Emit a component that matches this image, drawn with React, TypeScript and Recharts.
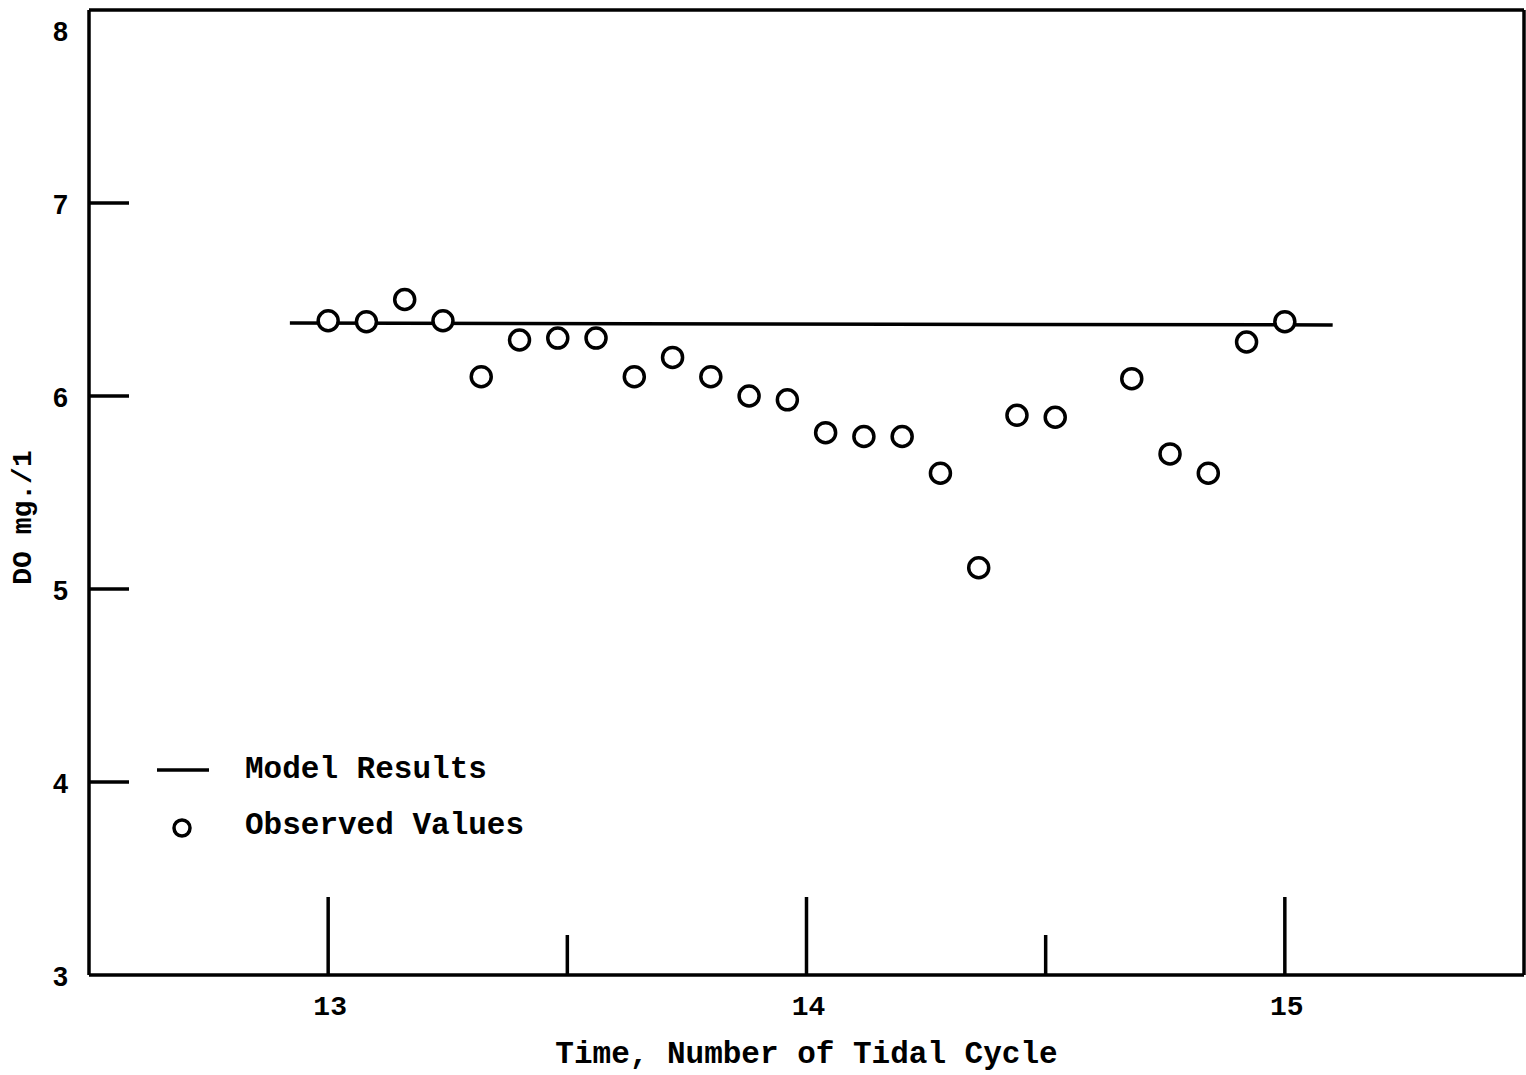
import React from "react";
import {
  ComposedChart,
  Line,
  Scatter,
  XAxis,
  YAxis,
  ReferenceLine,
} from "recharts";

// Observed values (time in tidal cycles, DO mg/l)
const observedTime = [
  13.0, 13.08, 13.16, 13.24, 13.32, 13.4, 13.48, 13.56, 13.64, 13.72, 13.8,
  13.88, 13.96, 14.04, 14.12, 14.2, 14.28, 14.36, 14.44, 14.52, 14.68, 14.76,
  14.84, 14.92, 15.0,
];
const observedDO = [
  6.39, 6.385, 6.5, 6.39, 6.1, 6.29, 6.3, 6.3, 6.1, 6.2, 6.1, 6.0, 5.98, 5.81,
  5.79, 5.79, 5.6, 5.11, 5.9, 5.89, 6.09, 5.7, 5.6, 6.28, 6.385,
];

// Model results line
const modelTime = [12.92, 15.1];
const modelDO = [6.378, 6.368];

// Axis ticks
const xTicks = [13, 13.5, 14, 14.5, 15];
const xLabelTicks = [13, 14, 15];
const yTicks = [3, 4, 5, 6, 7, 8];
const yInnerTicks = [4, 5, 6, 7];
const xDomain = [12.5, 15.5];
const yDomain = [3, 8];

const observedData = observedTime.map((t, i) => ({ t, v: observedDO[i] }));
const modelData = modelTime.map((t, i) => ({ t, v: modelDO[i] }));

const MONO = "'Liberation Mono', 'DejaVu Sans Mono', monospace";
const SANS = "'Liberation Sans', Arial, sans-serif";
const SW = 3.5;

const XTick = (props: any) => {
  const { x, y, payload } = props;
  const v = payload.value;
  const major = xLabelTicks.includes(v);
  return (
    <g>
      <line
        x1={x}
        x2={x}
        y1={y}
        y2={y - (major ? 78 : 40)}
        stroke="#000"
        strokeWidth={SW}
      />
      {major && (
        <text
          x={x + 2}
          y={y + 40}
          textAnchor="middle"
          fontFamily={MONO}
          fontSize={28}
          fontWeight={700}
          fill="#000"
        >
          {v}
        </text>
      )}
    </g>
  );
};

const YTick = (props: any) => {
  const { x, y, payload } = props;
  const v = payload.value;
  const axisX = x + 20;
  const inner = yInnerTicks.includes(v);
  return (
    <g>
      {inner && (
        <line
          x1={axisX}
          x2={axisX + 40}
          y1={y}
          y2={y}
          stroke="#000"
          strokeWidth={SW}
        />
      )}
      <text
        x={x - 1}
        y={y + (v === 8 ? 24 : 4)}
        textAnchor="end"
        dominantBaseline="middle"
        fontFamily={SANS}
        fontSize={27}
        fontWeight={700}
        fill="#000"
      >
        {v}
      </text>
    </g>
  );
};

const ObservedDot = (props: any) => {
  const { cx, cy } = props;
  return <circle cx={cx} cy={cy} r={10} fill="#fff" stroke="#000" strokeWidth={3.5} />;
};

const LegendOverlay = () => (
  <svg
    width={420}
    height={100}
    style={{ position: "absolute", left: 148, top: 748 }}
  >
    <line x1={9} x2={61} y1={22} y2={22} stroke="#000" strokeWidth={SW} />
    <text
      x={97}
      y={22}
      dominantBaseline="middle"
      fontFamily={MONO}
      fontSize={31}
      fontWeight={700}
      fill="#000"
    >
      Model Results
    </text>
    <circle cx={34} cy={80} r={8} fill="#fff" stroke="#000" strokeWidth={3.5} />
    <text
      x={97}
      y={78}
      dominantBaseline="middle"
      fontFamily={MONO}
      fontSize={31}
      fontWeight={700}
      fill="#000"
    >
      Observed Values
    </text>
  </svg>
);

export default function App() {
  return (
    <div style={{ position: "absolute", left: 0, top: 0, width: 1526, height: 1075, background: "#fff" }}>
      <ComposedChart
        width={1526}
        height={1075}
        margin={{ top: 10, right: 2, left: 0, bottom: 0 }}
      >
        <XAxis
          dataKey="t"
          type="number"
          domain={xDomain}
          ticks={xTicks}
          tick={<XTick />}
          tickLine={false}
          tickSize={0}
          tickMargin={0}
          height={100}
          axisLine={{ stroke: "#000", strokeWidth: SW }}
          allowDataOverflow
          interval={0}
          label={{
            value: "Time, Number of Tidal Cycle",
            position: "insideBottom",
            offset: 12,
            fontFamily: MONO,
            fontSize: 31,
            fontWeight: 700,
            fill: "#000",
          }}
        />
        <YAxis
          dataKey="v"
          type="number"
          domain={yDomain}
          ticks={yTicks}
          tick={<YTick />}
          tickLine={false}
          tickSize={0}
          tickMargin={20}
          width={89}
          interval={0}
          allowDataOverflow
          axisLine={{ stroke: "#000", strokeWidth: SW }}
          label={(p: any) => {
            const vb = p.viewBox || { x: 0, y: 10, width: 89, height: 965 };
            const cx = vb.x + 24;
            const cy = vb.y + vb.height / 2 + 25;
            return (
              <text
                x={cx}
                y={cy}
                transform={`rotate(-90, ${cx}, ${cy})`}
                textAnchor="middle"
                dominantBaseline="middle"
                fontFamily={MONO}
                fontSize={28}
                fontWeight={700}
                fill="#000"
              >
                DO mg./1
              </text>
            );
          }}
        />
        <ReferenceLine y={yDomain[1]} stroke="#000" strokeWidth={SW} ifOverflow="visible" />
        <ReferenceLine x={xDomain[1]} stroke="#000" strokeWidth={SW} ifOverflow="visible" />
        <Line
          data={modelData}
          dataKey="v"
          type="linear"
          stroke="#000"
          strokeWidth={SW}
          dot={false}
          isAnimationActive={false}
          legendType="none"
        />
        <Scatter
          data={observedData}
          dataKey="v"
          shape={<ObservedDot />}
          isAnimationActive={false}
          legendType="none"
        />
      </ComposedChart>
      <LegendOverlay />
    </div>
  );
}
